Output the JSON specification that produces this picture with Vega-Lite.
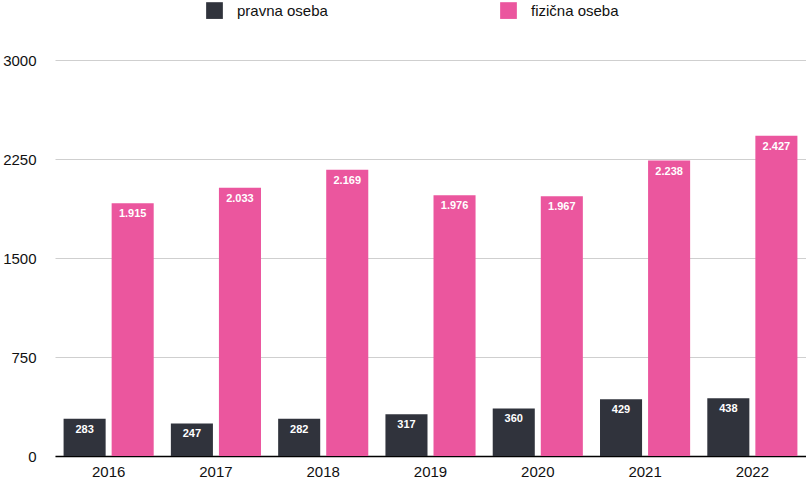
{
  "$schema": "https://vega.github.io/schema/vega-lite/v6.json",
  "width": 751,
  "height": 396,
  "autosize": {"type": "none"},
  "padding": {"left": 55, "top": 60, "right": 0, "bottom": 26},
  "background": "white",
  "config": {
    "font": "Liberation Sans",
    "view": {"stroke": null},
    "locale": {"number": {"decimal": ",", "thousands": ".", "grouping": [3], "currency": ["", " €"]}}
  },
  "data": {
    "values": [
      {"leto": "2016", "vrsta": "pravna oseba", "stevilo": 283},
      {"leto": "2016", "vrsta": "fizična oseba", "stevilo": 1915},
      {"leto": "2017", "vrsta": "pravna oseba", "stevilo": 247},
      {"leto": "2017", "vrsta": "fizična oseba", "stevilo": 2033},
      {"leto": "2018", "vrsta": "pravna oseba", "stevilo": 282},
      {"leto": "2018", "vrsta": "fizična oseba", "stevilo": 2169},
      {"leto": "2019", "vrsta": "pravna oseba", "stevilo": 317},
      {"leto": "2019", "vrsta": "fizična oseba", "stevilo": 1976},
      {"leto": "2020", "vrsta": "pravna oseba", "stevilo": 360},
      {"leto": "2020", "vrsta": "fizična oseba", "stevilo": 1967},
      {"leto": "2021", "vrsta": "pravna oseba", "stevilo": 429},
      {"leto": "2021", "vrsta": "fizična oseba", "stevilo": 2238},
      {"leto": "2022", "vrsta": "pravna oseba", "stevilo": 438},
      {"leto": "2022", "vrsta": "fizična oseba", "stevilo": 2427}
    ]
  },
  "encoding": {
    "x": {
      "field": "leto", "type": "nominal",
      "scale": {"paddingInner": 0.16, "paddingOuter": 0.08},
      "axis": {"title": null, "labelAngle": 0, "labelFontSize": 15, "labelColor": "#111", "domainColor": "#000", "domainWidth": 1.5, "ticks": false, "labelPadding": 8}
    },
    "xOffset": {
      "field": "vrsta", "type": "nominal",
      "sort": ["pravna oseba", "fizična oseba"],
      "scale": {"paddingInner": 0.125, "paddingOuter": 0}
    },
    "y": {
      "field": "stevilo", "type": "quantitative",
      "scale": {"domain": [0, 3000], "nice": false},
      "axis": {"title": null, "values": [0, 750, 1500, 2250, 3000], "format": "d", "labelFontSize": 15, "labelColor": "#111", "domain": false, "ticks": false, "labelPadding": 19, "gridColor": "#cfcfcf"}
    }
  },
  "layer": [
    {
      "mark": {"type": "bar"},
      "encoding": {
        "color": {
          "field": "vrsta", "type": "nominal",
          "sort": ["pravna oseba", "fizična oseba"],
          "scale": {"domain": ["pravna oseba", "fizična oseba"], "range": ["#30333c", "#eb569e"]},
          "legend": {
            "title": null, "orient": "none", "direction": "horizontal",
            "legendX": 151, "legendY": -58,
            "symbolType": "square", "symbolSize": 280, "symbolStrokeWidth": 0,
            "labelFontSize": 15, "labelColor": "#111", "labelOffset": 14,
            "columnPadding": 172
          }
        }
      }
    },
    {
      "mark": {"type": "text", "baseline": "top", "dy": 5, "color": "white", "fontSize": 11, "fontWeight": "bold"},
      "encoding": {
        "text": {"field": "stevilo", "type": "quantitative", "format": ",d"}
      }
    }
  ]
}
